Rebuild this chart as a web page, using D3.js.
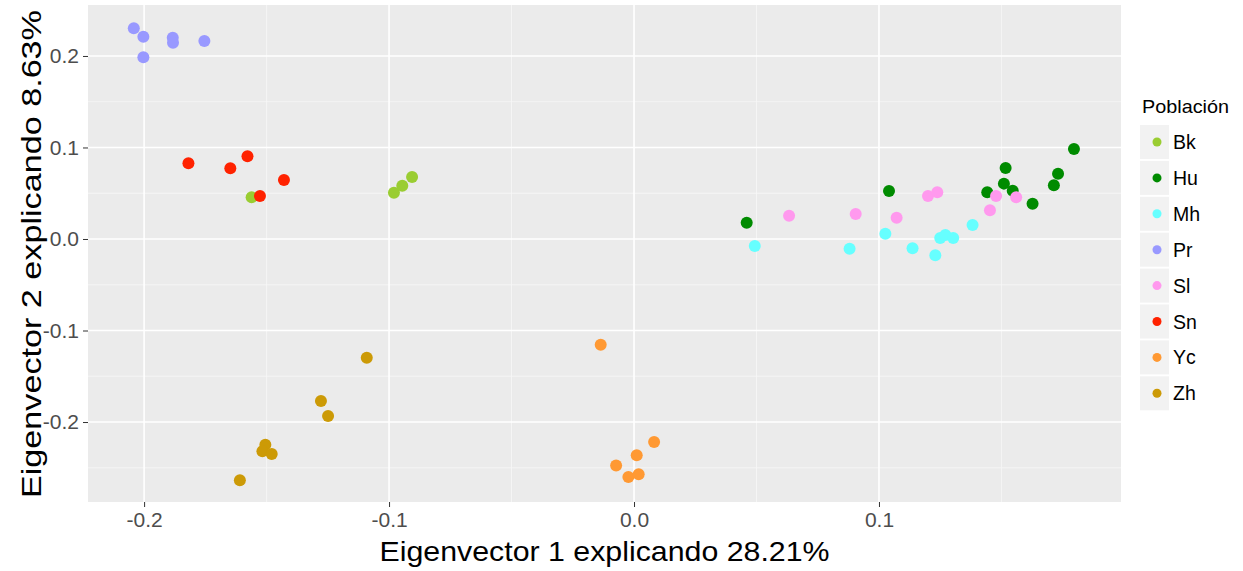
<!DOCTYPE html>
<html>
<head>
<meta charset="utf-8">
<script src="https://cdn.jsdelivr.net/npm/d3@7"></script>
<style>
  body { margin: 0; background: #fff; }
  svg { display: block; font-family: "Liberation Sans", Arial, sans-serif; }
</style>
</head>
<body>
<svg id="chart" width="1243" height="571"></svg>
<script>
// populations and colours (legend order)
var populations = ["Bk", "Hu", "Mh", "Pr", "Sl", "Sn", "Yc", "Zh"];
var colors = ["#9acd32", "#008b00", "#66ffff", "#9999ff", "#ff99ee", "#ff2200", "#ff9933", "#cc9a06"];

// [eigenvector 1, eigenvector 2] per individual
var bk = [[-0.1561, 0.0456], [-0.0980, 0.0506], [-0.0946, 0.0583], [-0.0906, 0.0678]];
var hu = [[0.0460, 0.0178], [0.1041, 0.0525], [0.1442, 0.0510], [0.1517, 0.0776], [0.1510, 0.0605],
          [0.1546, 0.0528], [0.1627, 0.0386], [0.1714, 0.0587], [0.1731, 0.0714], [0.1796, 0.0984]];
var mh = [[0.0493, -0.0077], [0.0880, -0.0106], [0.1026, 0.0058], [0.1137, -0.0102], [0.1230, -0.0178],
          [0.1250, 0.0011], [0.1271, 0.0044], [0.1303, 0.0011], [0.1382, 0.0153]];
var pr = [[-0.2042, 0.2303], [-0.2003, 0.2211], [-0.2003, 0.1986], [-0.1883, 0.2200], [-0.1882, 0.2145], [-0.1754, 0.2164]];
var sl = [[0.0633, 0.0255], [0.0905, 0.0273], [0.1072, 0.0233], [0.1200, 0.0470], [0.1238, 0.0510],
          [0.1478, 0.0470], [0.1453, 0.0314], [0.1560, 0.0456]];
var sn = [[-0.1819, 0.0827], [-0.1648, 0.0773], [-0.1578, 0.0904], [-0.1429, 0.0645], [-0.1527, 0.0470]];
var yc = [[-0.0136, -0.1155], [0.0082, -0.2219], [0.0011, -0.2364], [-0.0073, -0.2474], [-0.0023, -0.2601], [0.0019, -0.2572]];
var zh = [[-0.1091, -0.1297], [-0.1278, -0.1770], [-0.1249, -0.1934], [-0.1505, -0.2248], [-0.1517, -0.2320],
          [-0.1479, -0.2350], [-0.1609, -0.2637]];
var groups = [bk, hu, mh, pr, sl, sn, yc, zh];

var xTicks = [-0.2, -0.1, 0.0, 0.1];
var yTicks = [-0.2, -0.1, 0.0, 0.1, 0.2];
var xMinor = [-0.15, -0.05, 0.05, 0.15];
var yMinor = [-0.25, -0.15, -0.05, 0.05, 0.15];

var svg = d3.select("#chart"),
    margin = {top: 5, right: 122, bottom: 69, left: 88},
    width = +svg.attr("width") - margin.left - margin.right,
    height = +svg.attr("height") - margin.top - margin.bottom,
    g = svg.append("g").attr("transform", "translate(" + margin.left + "," + margin.top + ")");

var x = d3.scaleLinear().domain([-0.2229, 0.1988]).range([0, width]);
var y = d3.scaleLinear().domain([-0.2874, 0.2557]).range([height, 0]);

var fmt = function(d) { return d.toFixed(1); };

// panel background + grid
g.append("rect").attr("width", width).attr("height", height).attr("fill", "#ebebeb");

g.selectAll(".xminor").data(xMinor).enter().append("line")
    .attr("x1", x).attr("x2", x).attr("y1", 0).attr("y2", height)
    .attr("stroke", "#f7f7f7").attr("stroke-width", 0.8);
g.selectAll(".yminor").data(yMinor).enter().append("line")
    .attr("y1", y).attr("y2", y).attr("x1", 0).attr("x2", width)
    .attr("stroke", "#f7f7f7").attr("stroke-width", 0.8);
g.selectAll(".xmajor").data(xTicks).enter().append("line")
    .attr("x1", x).attr("x2", x).attr("y1", 0).attr("y2", height)
    .attr("stroke", "#fff").attr("stroke-width", 1.6);
g.selectAll(".ymajor").data(yTicks).enter().append("line")
    .attr("y1", y).attr("y2", y).attr("x1", 0).attr("x2", width)
    .attr("stroke", "#fff").attr("stroke-width", 1.6);

// points
groups.forEach(function(pts, i) {
  g.append("g").attr("fill", colors[i])
    .selectAll("circle")
    .data(pts)
    .enter().append("circle")
      .attr("cx", function(d) { return x(d[0]); })
      .attr("cy", function(d) { return y(d[1]); })
      .attr("r", 6);
});

// axes
var xAxis = g.append("g")
    .attr("transform", "translate(0," + height + ")")
    .call(d3.axisBottom(x).tickValues(xTicks).tickFormat(fmt).tickSize(5).tickPadding(5));
var yAxis = g.append("g")
    .call(d3.axisLeft(y).tickValues(yTicks).tickFormat(fmt).tickSize(5).tickPadding(4));

[xAxis, yAxis].forEach(function(a) {
  a.select(".domain").remove();
  a.selectAll(".tick line").attr("stroke", "#333").attr("stroke-width", 1);
  a.selectAll(".tick text").attr("fill", "#4d4d4d").style("font-family", "Liberation Sans, Arial, sans-serif");
});
xAxis.selectAll(".tick text").style("font-size", "21px");
yAxis.selectAll(".tick text").style("font-size", "21px");

// axis titles
svg.append("text")
    .attr("x", margin.left + width / 2)
    .attr("y", 561)
    .attr("text-anchor", "middle")
    .attr("textLength", 450)
    .attr("lengthAdjust", "spacingAndGlyphs")
    .style("font-size", "28px")
    .attr("fill", "#000")
    .text("Eigenvector 1 explicando 28.21%");

svg.append("text")
    .attr("transform", "translate(41," + 254 + ") rotate(-90)")
    .attr("text-anchor", "middle")
    .attr("textLength", 488)
    .attr("lengthAdjust", "spacingAndGlyphs")
    .style("font-size", "28px")
    .attr("fill", "#000")
    .text("Eigenvector 2 explicando 8.63%");

// legend
var legend = svg.append("g").attr("transform", "translate(1140,0)");

legend.append("text")
    .attr("x", 2)
    .attr("y", 113)
    .attr("textLength", 87)
    .attr("lengthAdjust", "spacingAndGlyphs")
    .style("font-size", "19px")
    .attr("fill", "#000")
    .text("Población");

var item = legend.selectAll(".legend")
  .data(populations)
  .enter().append("g")
    .attr("class", "legend")
    .attr("transform", function(d, i) { return "translate(0," + (142 + i * 35.9) + ")"; });

item.append("rect")
    .attr("x", 0)
    .attr("y", -17)
    .attr("width", 29)
    .attr("height", 34)
    .attr("fill", "#f2f2f2");

item.append("circle")
    .attr("cx", 17)
    .attr("cy", 0)
    .attr("r", 4.5)
    .attr("fill", function(d, i) { return colors[i]; });

item.append("text")
    .attr("x", 33)
    .attr("y", 0)
    .attr("dy", "0.36em")
    .style("font-size", "19.5px")
    .attr("fill", "#000")
    .text(function(d) { return d; });
</script>
</body>
</html>
